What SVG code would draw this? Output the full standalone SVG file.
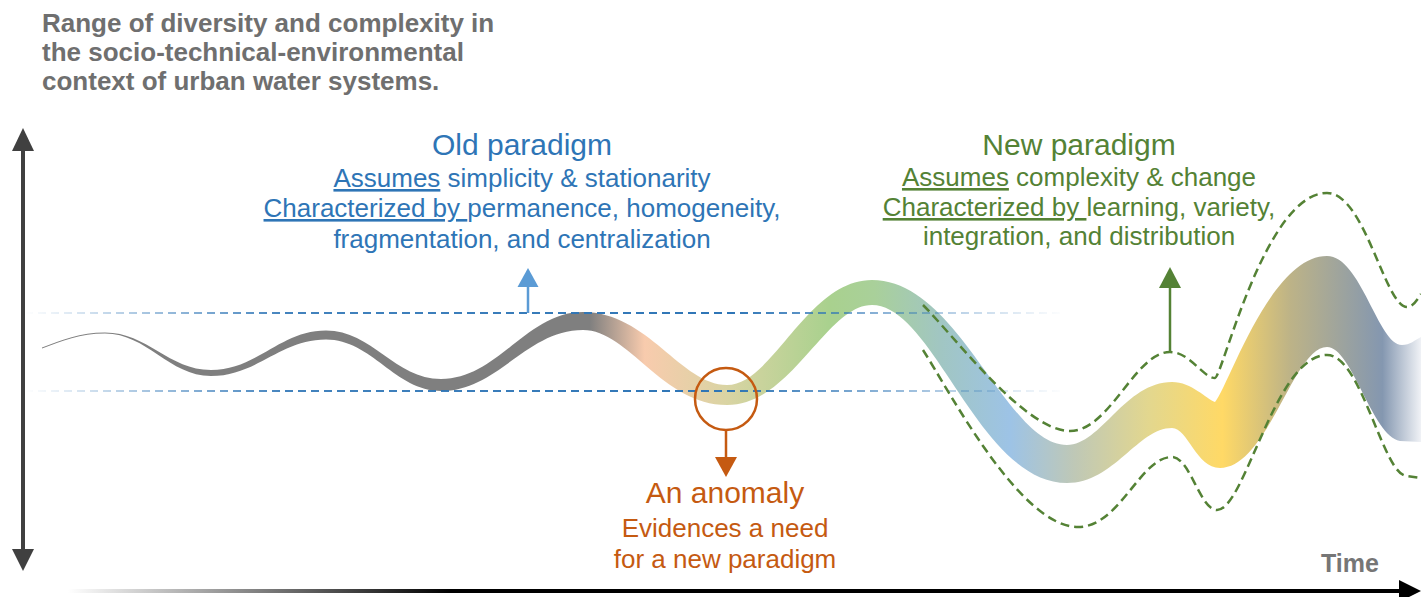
<svg xmlns="http://www.w3.org/2000/svg" width="1421" height="597" viewBox="0 0 1421 597">
<defs>
<style>
text{font-family:'Liberation Sans',Arial,Helvetica,sans-serif}
.title{font-weight:bold;font-size:26px;fill:#6f6f6f}
.blue{fill:#2e75b6;font-size:26px;text-anchor:middle}
.green{fill:#548235;font-size:26px;text-anchor:middle}
.orange{fill:#c55a11;font-size:26px;text-anchor:middle}
.h{font-size:30px}
.u{text-decoration:underline}
.env{fill:none;stroke:#548235;stroke-width:2.5;stroke-dasharray:9 5}
.hline{fill:none;stroke:url(#hlineGrad);stroke-width:2;stroke-dasharray:8 5}
.timeLabel{font-weight:bold;font-size:25px;fill:#767676}
</style>
<linearGradient id="bandGrad" gradientUnits="userSpaceOnUse" x1="42" y1="0" x2="1421" y2="0">
<stop offset="0" stop-color="#7f7f7f"/>
<stop offset="0.397" stop-color="#7f7f7f"/>
<stop offset="0.437" stop-color="#f8cbad"/>
<stop offset="0.497" stop-color="#d9d4a3"/>
<stop offset="0.571" stop-color="#a9d18e"/>
<stop offset="0.604" stop-color="#a9d09a"/>
<stop offset="0.651" stop-color="#a1c6c2"/>
<stop offset="0.702" stop-color="#9dc3e6"/>
<stop offset="0.749" stop-color="#bfc8b6"/>
<stop offset="0.803" stop-color="#e3d78e"/>
<stop offset="0.856" stop-color="#ffd966"/>
<stop offset="0.905" stop-color="#bdb387"/>
<stop offset="0.972" stop-color="#8497b0"/>
<stop offset="1" stop-color="#f0f2f6"/>
</linearGradient>
<linearGradient id="hlineGrad" gradientUnits="userSpaceOnUse" x1="25" y1="0" x2="1065" y2="0">
<stop offset="0" stop-color="#2e75b6" stop-opacity="0"/>
<stop offset="0.25" stop-color="#2e75b6" stop-opacity="0.9"/>
<stop offset="0.68" stop-color="#2e75b6"/>
<stop offset="1" stop-color="#2e75b6" stop-opacity="0"/>
</linearGradient>
<linearGradient id="axisGrad" gradientUnits="userSpaceOnUse" x1="68" y1="0" x2="450" y2="0">
<stop offset="0" stop-color="#ffffff"/>
<stop offset="1" stop-color="#000000"/>
</linearGradient>
</defs>

<g id="title">
<text class="title" x="42" y="32">Range of diversity and complexity in</text>
<text class="title" x="42" y="61">the socio-technical-environmental</text>
<text class="title" x="42" y="90">context of urban water systems.</text>
</g>

<g id="axes">
<line x1="23" y1="150" x2="23" y2="550" stroke="#404040" stroke-width="4"/>
<polygon points="12,151 34,151 23,128" fill="#404040"/>
<polygon points="12,549 34,549 23,571" fill="#404040"/>
<line x1="68" y1="591" x2="1402" y2="591" stroke="url(#axisGrad)" stroke-width="4"/>
<polygon points="1399,580 1421,591 1399,602" fill="#000000"/>
</g>

<g id="time-label">
<text class="timeLabel" x="1321" y="572">Time</text>
</g>

<g id="wave">
<path fill="url(#bandGrad)" d="M42,347.5 C62,340 80,332.5 105,332.5 C147,332.5 169,370 211,370 C257,370 280,330.5 326,330.5 C372,330.5 395,379 441,379 C498,379 526,312 583,312 C648,312 681,385 727,385 C773,385 807,280 872,280 C960,280 1005,445 1067,445 C1101,445 1125,382 1172,382 C1192,382 1206,399 1215,402 C1228,388 1270,256 1327,256 C1361,256 1378,345 1402,345 C1410,345 1415,340 1421,337 L1421,442 L1400,441 C1372,436 1352,347 1327,347 C1293,347 1268,468 1220,468 C1196,468 1188,428 1172,428 C1138,428 1114,483 1067,483 C979,483 934,305 872,305 C826,305 792,405 727,405 C662,405 629,330 583,330 C526,330 498,391 441,391 C395,391 372,339.5 326,339.5 C280,339.5 257,376 211,376 C169,376 147,333.5 105,333.5 C80,333.5 62,341 42,348.5 Z"/>
</g>

<g id="old-range">
<line class="hline" x1="25" y1="313" x2="1065" y2="313"/>
<line class="hline" x1="25" y1="391" x2="1065" y2="391"/>
</g>

<g id="new-envelope">
<path class="env" d="M923,305 C955,337 1025,431 1070,431 C1110,431 1135,352 1170,352 C1190,352 1203,378 1215,378 C1222,378 1265,193 1327,193 C1365,193 1385,307 1407,307 C1413,307 1417,300 1421,294"/>
<path class="env" d="M923,350 C950,392 1020,527 1078,527 C1120,527 1140,457 1172,457 C1190,457 1200,510 1217,510 C1245,510 1275,355 1327,355 C1362,355 1383,476 1407,476 L1421,478"/>
</g>

<g id="anomaly-marker">
<circle cx="726" cy="399" r="31" fill="none" stroke="#c55a11" stroke-width="2.5"/>
</g>

<g id="connectors">
<line x1="528" y1="313" x2="528" y2="285" stroke="#5b9bd5" stroke-width="2.5"/>
<polygon points="517.5,287 538.5,287 528,268" fill="#5b9bd5"/>
<line x1="1170" y1="352" x2="1170" y2="285" stroke="#548235" stroke-width="2.5"/>
<polygon points="1159,288 1181,288 1170,267" fill="#548235"/>
<line x1="726" y1="430" x2="726" y2="459" stroke="#c55a11" stroke-width="2.5"/>
<polygon points="715,457 737,457 726,477" fill="#c55a11"/>
</g>

<g id="old-paradigm">
<text class="blue h" x="522" y="155">Old paradigm</text>
<text class="blue" x="522" y="187"><tspan class="u">Assumes</tspan> simplicity &amp; stationarity</text>
<text class="blue" x="522" y="217"><tspan class="u">Characterized by </tspan><tspan>permanence, homogeneity,</tspan></text>
<text class="blue" x="522" y="248">fragmentation, and centralization</text>
</g>

<g id="new-paradigm">
<text class="green h" x="1079" y="155">New paradigm</text>
<text class="green" x="1079" y="186"><tspan class="u">Assumes</tspan> complexity &amp; change</text>
<text class="green" x="1079" y="216"><tspan class="u">Characterized by </tspan><tspan>learning, variety,</tspan></text>
<text class="green" x="1079" y="245">integration, and distribution</text>
</g>

<g id="anomaly">
<text class="orange h" x="725" y="503">An anomaly</text>
<text class="orange" x="725" y="537">Evidences a need</text>
<text class="orange" x="725" y="568">for a new paradigm</text>
</g>
</svg>
